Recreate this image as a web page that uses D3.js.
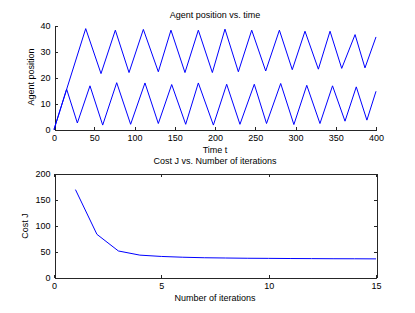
<!DOCTYPE html>
<meta charset="utf-8">
<style>
body { margin: 0; background: #fff; }
svg { font-family: "Liberation Sans", Arial, sans-serif; }
.axis path, .axis line { stroke: #262626; stroke-width: 1; shape-rendering: crispEdges; }
.axis text { fill: #000; font-size: 9px; }
.lbl { font-size: 9px; fill: #000; }
.curve { fill: none; stroke: #0000ff; stroke-width: 1; }
</style>
<body>
<script src="https://d3js.org/d3.v7.min.js"></script>
<script>
// agent 1 (upper zigzag), turning points
var agent1T = [0, 39.4, 58.4, 76.2, 93.2, 111, 129.6, 145.3, 162.7, 179.3, 196.7, 212.4, 229, 245.6, 263, 280, 296, 311.8, 328.4, 342.9, 357.4, 374, 386.3, 400];
var agent1Y = [0, 38.8, 21.5, 38.2, 21.9, 38.5, 22.2, 38.2, 21.9, 38.2, 21.9, 38.6, 22.2, 38.2, 22.5, 38.2, 23, 37.8, 23.2, 37.8, 23.5, 36.5, 23.7, 35.6];
// agent 2 (lower zigzag)
var agent2T = [0, 15.7, 29, 44.7, 60.5, 77.9, 95.2, 113, 129.6, 146.2, 163.6, 179.3, 198, 214.5, 231, 248.8, 264, 281.6, 298, 314, 330.4, 346, 361.5, 375.5, 388.7, 400];
var agent2Y = [0, 15.5, 2.5, 16.8, 1.7, 18, 2, 17.9, 2.3, 17.3, 2, 17.9, 1.7, 17.4, 2, 17.4, 2.3, 17.7, 1.9, 17, 2.3, 16.8, 3.2, 16.4, 3.6, 14.7];

// cost per iteration
var iters = [1, 2, 3, 4, 5, 6, 7, 8, 9, 10, 11, 12, 13, 14, 15];
var cost = [169, 83, 51, 43, 40.5, 39, 38, 37.5, 37, 36.8, 36.5, 36.3, 36.1, 36, 35.8];

var timeTicks = [0, 50, 100, 150, 200, 250, 300, 350, 400];
var posTicks = [0, 10, 20, 30, 40];
var iterTicks = [0, 5, 10, 15];
var costTicks = [0, 50, 100, 150, 200];

var W = 415, H = 313;
var svg = d3.select("body").append("svg").attr("width", W).attr("height", H);

var left = 54, right = 376;

// ---- top plot ----
var x1 = d3.scaleLinear().domain([0, 400]).range([left, right]);
var y1 = d3.scaleLinear().domain([0, 40]).range([129.5, 25.5]);

svg.append("g").attr("class", "axis")
    .attr("transform", "translate(0,129.5)")
    .call(d3.axisBottom(x1).tickValues(timeTicks).tickSize(-3).tickPadding(5).tickSizeOuter(0));
svg.append("g").attr("class", "axis")
    .attr("transform", "translate(54.5,0)")
    .call(d3.axisLeft(y1).tickValues(posTicks).tickSize(-3).tickPadding(4).tickSizeOuter(0));

var line1 = d3.line().x(function(d) { return x1(d[0]); }).y(function(d) { return y1(d[1]); });
svg.append("path").attr("class", "curve").attr("d", line1(d3.zip(agent1T, agent1Y)));
svg.append("path").attr("class", "curve").attr("d", line1(d3.zip(agent2T, agent2Y)));

svg.append("text").attr("class", "lbl").attr("x", 215).attr("y", 17.5).attr("text-anchor", "middle").text("Agent position vs. time");
svg.append("text").attr("class", "lbl").attr("x", 215).attr("y", 153).attr("text-anchor", "middle").text("Time t");
svg.append("text").attr("class", "lbl").attr("transform", "translate(33.5,77) rotate(-90)").attr("text-anchor", "middle").text("Agent position");

// ---- bottom plot ----
var x2 = d3.scaleLinear().domain([0, 15]).range([left, right]);
var y2 = d3.scaleLinear().domain([0, 200]).range([277.5, 173.5]);

svg.append("g").attr("class", "axis")
    .attr("transform", "translate(0,277.5)")
    .call(d3.axisBottom(x2).tickValues(iterTicks).tickSize(-3).tickPadding(5).tickSizeOuter(0));
svg.append("g").attr("class", "axis")
    .attr("transform", "translate(0,173.5)")
    .call(d3.axisTop(x2).tickValues(iterTicks).tickSize(-3).tickFormat("").tickSizeOuter(0));
svg.append("g").attr("class", "axis")
    .attr("transform", "translate(54.5,0)")
    .call(d3.axisLeft(y2).tickValues(costTicks).tickSize(-3).tickPadding(4).tickSizeOuter(0));
svg.append("g").attr("class", "axis")
    .attr("transform", "translate(376.5,0)")
    .call(d3.axisRight(y2).tickValues(costTicks).tickSize(-3).tickFormat("").tickSizeOuter(0));

var line2 = d3.line().x(function(d) { return x2(d[0]); }).y(function(d) { return y2(d[1]); });
svg.append("path").attr("class", "curve").attr("d", line2(d3.zip(iters, cost)));

svg.append("text").attr("class", "lbl").attr("x", 215).attr("y", 164).attr("text-anchor", "middle").text("Cost J vs. Number of iterations");
svg.append("text").attr("class", "lbl").attr("x", 215).attr("y", 301).attr("text-anchor", "middle").text("Number of iterations");
svg.append("text").attr("class", "lbl").attr("transform", "translate(28,226) rotate(-90)").attr("text-anchor", "middle").text("Cost J");
</script>
</body>
